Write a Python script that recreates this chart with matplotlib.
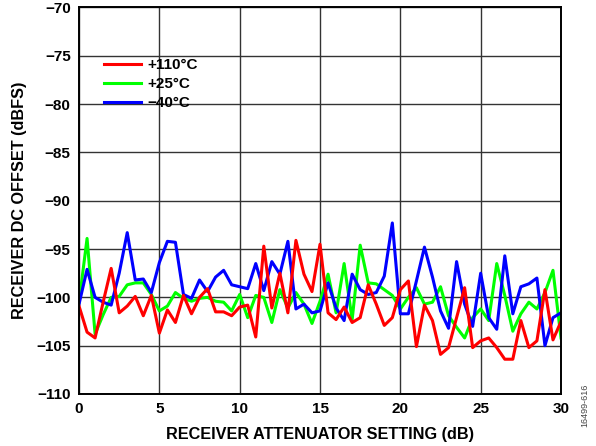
import numpy as np
import matplotlib
matplotlib.use('Agg')
import matplotlib.pyplot as plt

plt.rcParams.update({
    'font.family': ['Liberation Sans', 'DejaVu Sans'],
    'font.size': 11,
    'font.weight': 'bold',
    'axes.unicode_minus': True,
})

# attenuator setting (dB), 0.5 dB steps
atten = [0.0, 0.5, 1.0, 1.5, 2.0, 2.5, 3.0, 3.5, 4.0, 4.5,
         5.0, 5.5, 6.0, 6.5, 7.0, 7.5, 8.0, 8.5, 9.0, 9.5,
         10.0, 10.5, 11.0, 11.5, 12.0, 12.5, 13.0, 13.5, 14.0, 14.5,
         15.0, 15.5, 16.0, 16.5, 17.0, 17.5, 18.0, 18.5, 19.0, 19.5,
         20.0, 20.5, 21.0, 21.5, 22.0, 22.5, 23.0, 23.5, 24.0, 24.5,
         25.0, 25.5, 26.0, 26.5, 27.0, 27.5, 28.0, 28.5, 29.0, 29.5, 30.0]

# DC offset (dBFS)
hot = [-100.9, -103.6, -104.2, -100.5, -97.0, -101.6, -100.9, -99.9, -101.9, -99.8,
       -103.7, -101.3, -102.6, -99.8, -101.7, -100.0, -99.1, -101.5, -101.5, -101.9,
       -101.0, -100.8, -104.1, -94.7, -101.1, -97.5, -101.6, -94.1, -97.6, -99.4,
       -94.5, -101.6, -102.3, -101.0, -102.6, -102.1, -98.7, -100.7, -102.9, -102.1,
       -99.2, -98.3, -105.1, -100.8, -102.4, -105.9, -105.2, -102.1, -99.0, -105.2,
       -104.5, -104.2, -105.2, -106.4, -106.4, -102.4, -105.2, -104.5, -99.2, -104.4, -102.5]
room = [-100.5, -93.9, -103.8, -101.8, -100.0, -99.9, -98.7, -98.5, -98.5, -99.7,
        -101.4, -100.9, -99.5, -100.1, -100.4, -100.1, -100.0, -100.4, -100.5, -101.4,
        -99.7, -102.1, -99.8, -100.0, -102.6, -99.2, -101.1, -99.5, -100.7, -102.7,
        -100.4, -97.6, -101.6, -96.5, -102.3, -94.6, -98.5, -98.6, -99.2, -99.8,
        -101.2, -100.0, -99.0, -100.7, -100.5, -98.9, -101.9, -103.1, -104.2, -102.1,
        -101.2, -102.4, -96.5, -99.8, -103.5, -101.7, -100.5, -101.2, -99.5, -97.2, -104.2]
cold = [-100.7, -97.1, -100.0, -100.5, -100.8, -97.5, -93.3, -98.2, -98.1, -99.5,
        -96.4, -94.2, -94.3, -99.7, -100.1, -98.2, -99.4, -97.9, -97.2, -98.7,
        -98.9, -99.1, -96.5, -99.3, -96.3, -97.6, -94.2, -101.2, -100.7, -101.6,
        -101.4, -98.5, -101.1, -102.4, -97.6, -99.2, -99.7, -99.5, -97.8, -92.3,
        -101.7, -101.7, -98.3, -94.8, -97.9, -101.4, -103.2, -96.3, -100.7, -103.0,
        -97.5, -102.1, -103.3, -95.7, -101.7, -98.9, -98.6, -98.0, -105.0, -102.1, -101.6]

labels = ['+110°C', '+25°C', '−40°C']
colors = ['#FF0000', '#00FF00', '#0000FF']

fig = plt.figure(figsize=(5.96, 4.46), dpi=100)
ax = fig.add_axes([0.1326, 0.1166, 0.8087, 0.8666])

l_room, = ax.plot(atten, room, color=colors[1], lw=2.2, zorder=3)
l_cold, = ax.plot(atten, cold, color=colors[2], lw=2.2, zorder=4)
l_hot, = ax.plot(atten, hot, color=colors[0], lw=2.2, zorder=5)

ax.set_xlim(0, 30)
ax.set_ylim(-110, -70)
ax.set_xticks(np.arange(0, 31, 5))
ax.set_yticks(np.arange(-110, -69, 5))
ax.grid(True, color='#333333', linewidth=1.0)
ax.tick_params(length=0, pad=6, labelsize=11)
for s in ax.spines.values():
    s.set_linewidth(1.4)
    s.set_color('black')
    s.set_zorder(6)

ax.set_xlabel('RECEIVER ATTENUATOR SETTING (dB)', fontsize=11.7, fontweight='bold', labelpad=8)
ax.set_ylabel('RECEIVER DC OFFSET (dBFS)', fontsize=11.7, fontweight='bold', labelpad=7)

leg = ax.legend([l_hot, l_room, l_cold], labels, loc='upper left',
                bbox_to_anchor=(0.0226, 0.904), frameon=False, fontsize=11,
                handlelength=2.42, handletextpad=0.46, labelspacing=0.33)
leg.set_zorder(7)

fig.text(0.988, 0.092, '16499-616', rotation=90, fontsize=6.5, fontweight='normal',
         color='#444444', ha='right', va='center')

fig.savefig('out.png', dpi=100)
